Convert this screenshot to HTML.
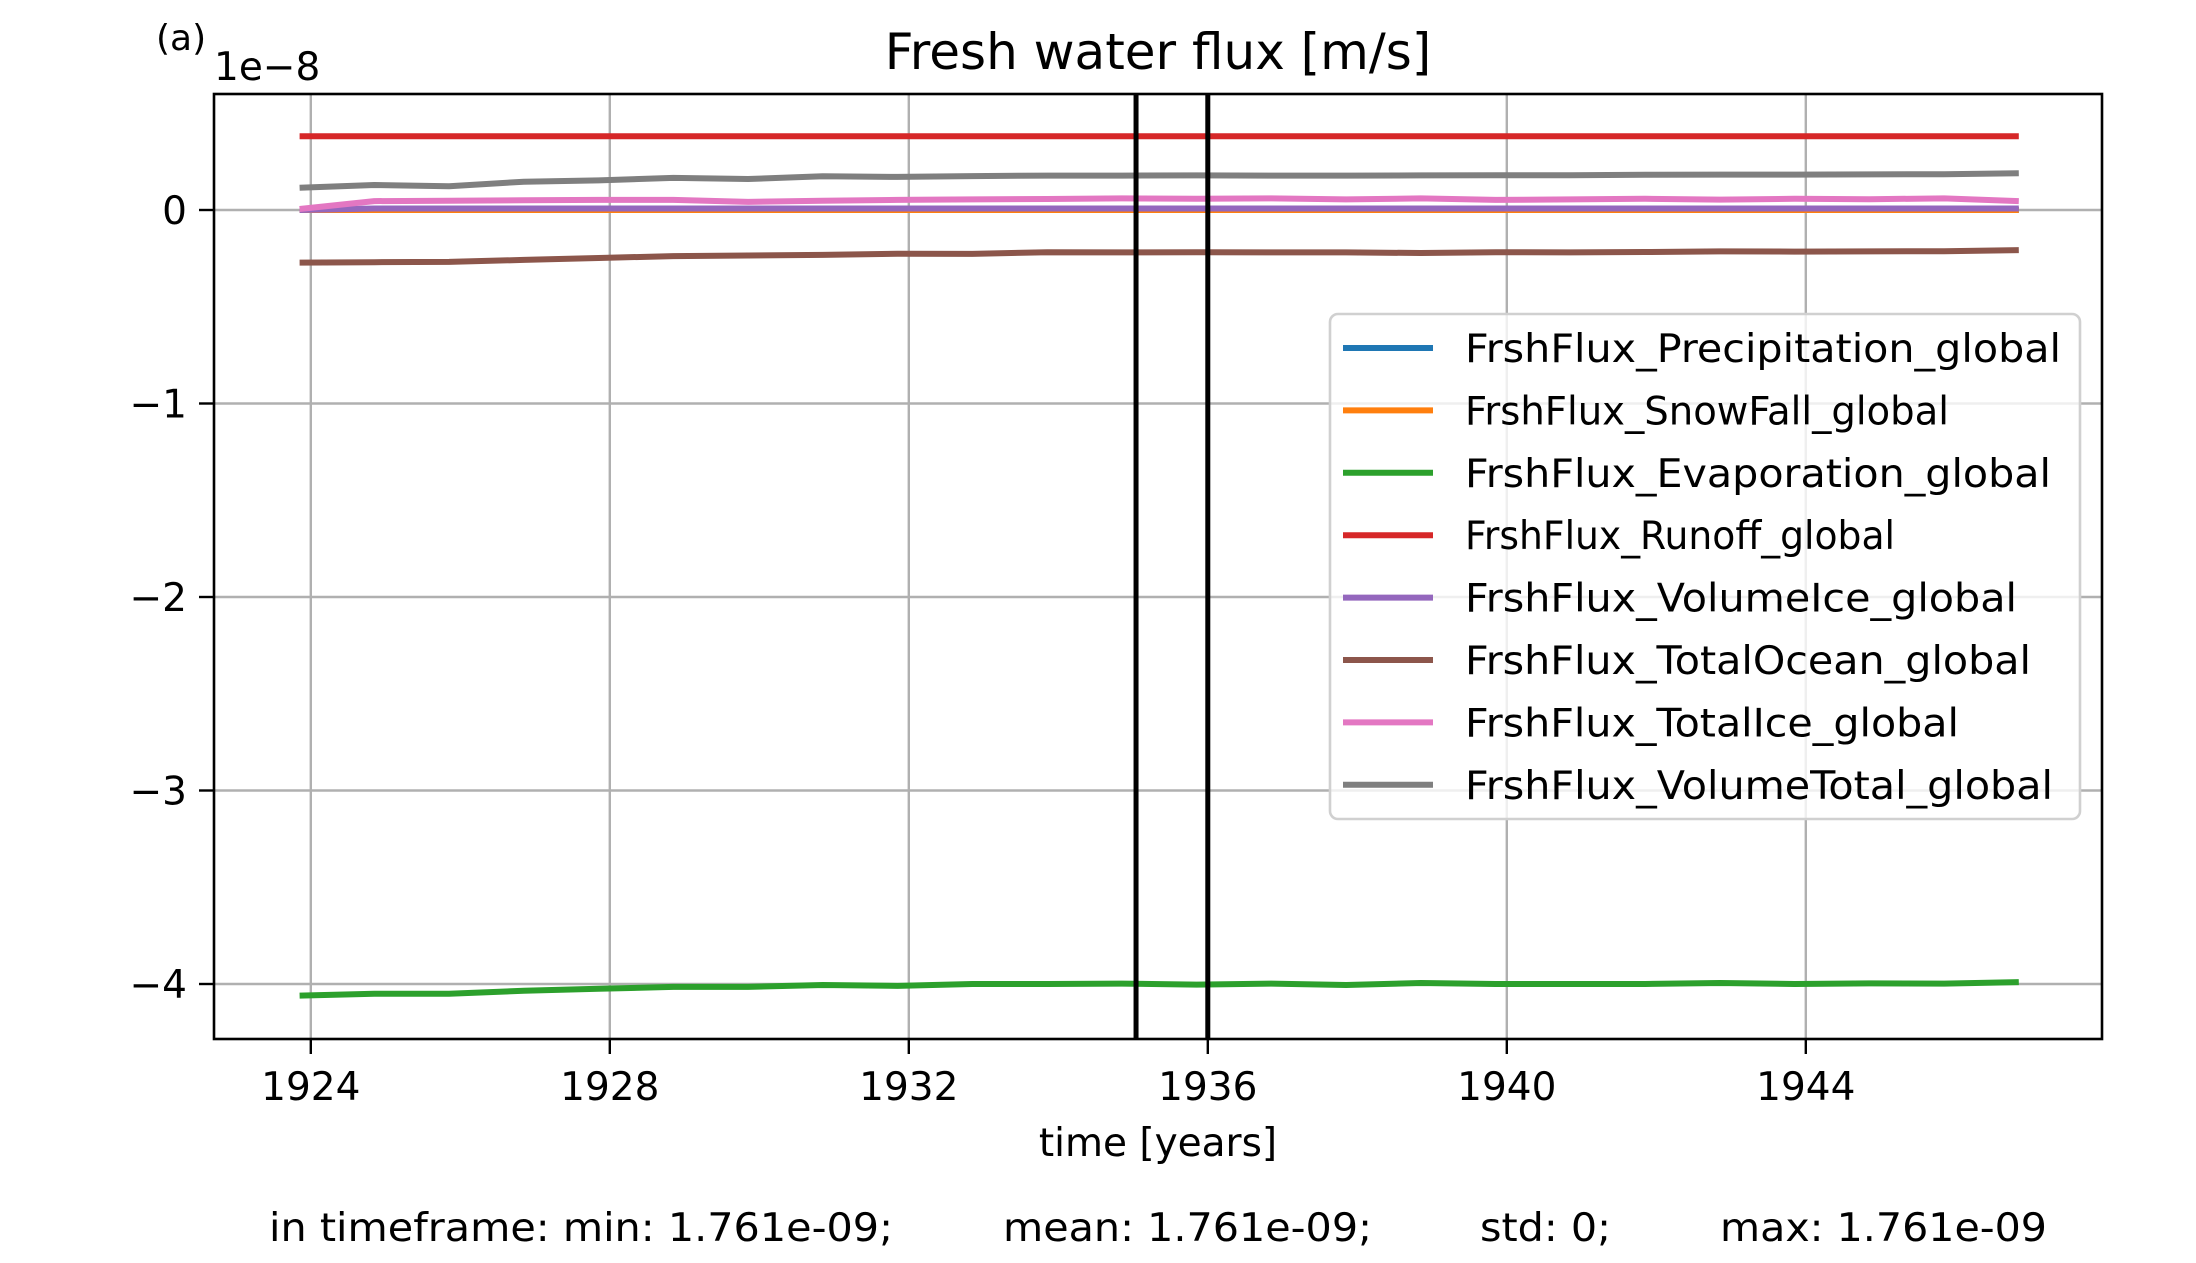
<!DOCTYPE html>
<html><head><meta charset="utf-8"><style>
html,body{margin:0;padding:0;background:#fff;}
svg{display:block;font-family:"DejaVu Sans","Liberation Sans",sans-serif;}
</style></head><body>
<svg id="chart" width="2196" height="1263" viewBox="0 0 2196 1263" xmlns="http://www.w3.org/2000/svg">
<rect width="2196" height="1263" fill="#fff"/>
<g id="grid"></g>
<g id="series"></g>
<g id="vlines"></g>
<rect x="214" y="94" width="1888" height="945" fill="none" stroke="#000" stroke-width="2.6"/>
<g id="ticks"></g>
<text x="156" y="50" font-size="36">(a)</text>
<text x="214" y="80" font-size="39">1e−8</text>
<text x="1158" y="69" font-size="50" text-anchor="middle">Fresh water flux [m/s]</text>
<text x="1158" y="1156" font-size="39" text-anchor="middle">time [years]</text>
<g font-size="39">
<text x="269" y="1241" textLength="624" lengthAdjust="spacingAndGlyphs">in timeframe: min: 1.761e-09;</text>
<text x="1003" y="1241" textLength="369" lengthAdjust="spacingAndGlyphs">mean: 1.761e-09;</text>
<text x="1480" y="1241" textLength="131" lengthAdjust="spacingAndGlyphs">std: 0;</text>
<text x="1720" y="1241" textLength="327" lengthAdjust="spacingAndGlyphs">max: 1.761e-09</text>
</g>
<g id="legend"></g>
</svg>
<script>
const years = [1923.85,1924.85,1925.85,1926.85,1927.85,1928.85,1929.85,1930.85,1931.85,1932.85,1933.85,1934.85,1935.85,1936.85,1937.85,1938.85,1939.85,1940.85,1941.85,1942.85,1943.85,1944.85,1945.85,1946.85];
const precipitation = [0,0,0,0,0,0,0,0,0,0,0,0,0,0,0,0,0,0,0,0,0,0,0,0];
const snowfall = [0,0,0,0,0,0,0,0,0,0,0,0,0,0,0,0,0,0,0,0,0,0,0,0];
const evaporation = [-4.06,-4.05,-4.05,-4.035,-4.025,-4.015,-4.015,-4.005,-4.01,-4.0,-4.0,-3.998,-4.003,-3.998,-4.005,-3.995,-4.0,-4.0,-4.0,-3.995,-4.0,-3.997,-3.998,-3.99];
const runoff = [0.381,0.381,0.381,0.381,0.381,0.381,0.381,0.381,0.381,0.381,0.381,0.381,0.381,0.381,0.381,0.381,0.381,0.381,0.381,0.381,0.381,0.381,0.381,0.381];
const volumeIce = [0.0,0.008,0.008,0.008,0.008,0.008,0.008,0.008,0.008,0.008,0.008,0.008,0.008,0.008,0.008,0.008,0.008,0.008,0.008,0.008,0.008,0.008,0.008,0.008];
const totalOcean = [-0.272,-0.270,-0.268,-0.258,-0.248,-0.238,-0.235,-0.232,-0.226,-0.227,-0.218,-0.219,-0.218,-0.219,-0.219,-0.222,-0.218,-0.219,-0.217,-0.214,-0.215,-0.214,-0.213,-0.207];
const totalIce = [0.005,0.046,0.048,0.05,0.052,0.052,0.042,0.048,0.052,0.055,0.057,0.06,0.058,0.06,0.055,0.06,0.052,0.055,0.058,0.054,0.058,0.056,0.06,0.046];
const volumeTotal = [0.115,0.129,0.123,0.146,0.153,0.166,0.160,0.174,0.171,0.175,0.178,0.178,0.179,0.178,0.178,0.179,0.180,0.180,0.182,0.183,0.183,0.184,0.185,0.19];
const xTicks = [1924,1928,1932,1936,1940,1944];
const yTicks = [0,-1,-2,-3,-4];
const yTickLabels = ["0","−1","−2","−3","−4"];
const markers = [1935.04,1936.0];
const seriesNames = ["FrshFlux_Precipitation_global","FrshFlux_SnowFall_global","FrshFlux_Evaporation_global","FrshFlux_Runoff_global","FrshFlux_VolumeIce_global","FrshFlux_TotalOcean_global","FrshFlux_TotalIce_global","FrshFlux_VolumeTotal_global"];

const NS="http://www.w3.org/2000/svg";
const L=214,R=2102,T=94,B=1039;
const x0=1924, xpx=74.75, x0px=310.8;
const X=v=>x0px+(v-x0)*xpx;
const Y=v=>210-v*193.5;
function mk(tag,attrs,parent){const e=document.createElementNS(NS,tag);for(const k in attrs)e.setAttribute(k,attrs[k]);parent.appendChild(e);return e;}
const grid=document.getElementById('grid'),ticks=document.getElementById('ticks');
xTicks.forEach(t=>{
  const g=mk('line',{x1:X(t),x2:X(t),y1:T,y2:B,stroke:'#b0b0b0','stroke-width':2.4},grid);
  
  
  const tk=mk('line',{x1:X(t),x2:X(t),y1:B,y2:B+15,stroke:'#000','stroke-width':2.4},ticks);
  
  
  const tx=mk('text',{x:X(t),y:1100,'font-size':39,'text-anchor':'middle'},ticks);
  
  
  tx.textContent=t;
});
yTicks.forEach((t,i)=>{
  const g=mk('line',{x1:L,x2:R,y1:Y(t),y2:Y(t),stroke:'#b0b0b0','stroke-width':2.4},grid);
  
  
  const tk=mk('line',{x1:L-15,x2:L,y1:Y(t),y2:Y(t),stroke:'#000','stroke-width':2.4},ticks);
  
  
  const tx=mk('text',{x:L-27,y:Y(t)+14,'font-size':39,'text-anchor':'end'},ticks);
  
  
  tx.textContent=yTickLabels[i];
});
const data=[precipitation,snowfall,evaporation,runoff,volumeIce,totalOcean,totalIce,volumeTotal];
const colors=['#1f77b4','#ff7f0e','#2ca02c','#d62728','#9467bd','#8c564b','#e377c2','#7f7f7f'];
const sg=document.getElementById('series');
data.forEach((arr,i)=>{
  const p=mk('polyline',{points:arr.map((v,j)=>X(years[j]).toFixed(1)+','+Y(v).toFixed(1)).join(' '),fill:'none',stroke:colors[i],'stroke-width':6,'stroke-linejoin':'round'},sg);
  
  
});
const vg=document.getElementById('vlines');
markers.forEach(m=>{
  const l=mk('line',{x1:X(m),x2:X(m),y1:T,y2:B,stroke:'#000','stroke-width':5},vg);
  
  
});
const lg=document.getElementById('legend');
const box=mk('rect',{x:1330,y:314,width:750,height:505,rx:8,fill:'#fff','fill-opacity':0.8,stroke:'#d0d0d0','stroke-width':2.6},lg);


const widths=[596,484,586,430,552,566,494,588];
seriesNames.forEach((n,i)=>{
  const y=348+i*62.4;
  const l=mk('line',{x1:1343,x2:1433,y1:y,y2:y,stroke:colors[i],'stroke-width':6},lg);
  
  
  const t=mk('text',{x:1465,y:y+14,'font-size':39,textLength:widths[i],lengthAdjust:'spacingAndGlyphs'},lg);
  
  
  t.textContent=n;
});
</script>
</body></html>
